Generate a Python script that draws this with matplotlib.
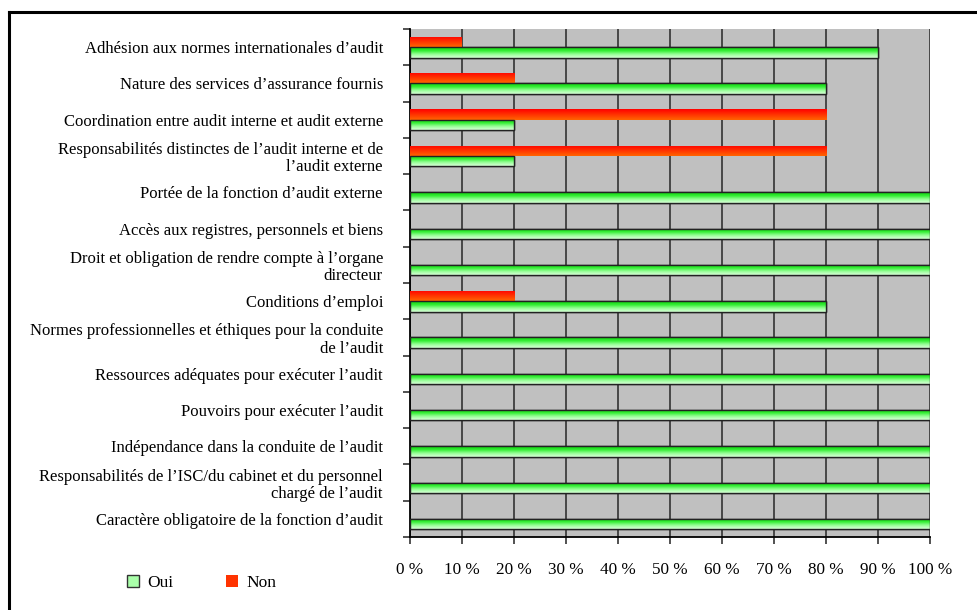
import numpy as np
import matplotlib
matplotlib.use("Agg")
import matplotlib.pyplot as plt
from matplotlib.patches import Patch
from matplotlib.colors import LinearSegmentedColormap
from matplotlib.lines import Line2D

categories = [
    "Adhésion aux normes internationales d’audit",
    "Nature des services d’assurance fournis",
    "Coordination entre audit interne et audit externe",
    "Responsabilités distinctes de l’audit interne et de\nl’audit externe",
    "Portée de la fonction d’audit externe",
    "Accès aux registres, personnels et biens",
    "Droit et obligation de rendre compte à l’organe\ndirecteur",
    "Conditions d’emploi",
    "Normes professionnelles et éthiques pour la conduite\nde l’audit",
    "Ressources adéquates pour exécuter l’audit",
    "Pouvoirs pour exécuter l’audit",
    "Indépendance dans la conduite de l’audit",
    "Responsabilités de l’ISC/du cabinet et du personnel\nchargé de l’audit",
    "Caractère obligatoire de la fonction d’audit",
]
oui = [90, 80, 20, 20, 100, 100, 100, 80, 100, 100, 100, 100, 100, 100]
non = [10, 20, 80, 80, 0, 0, 0, 20, 0, 0, 0, 0, 0, 0]
xticks = [0, 10, 20, 30, 40, 50, 60, 70, 80, 90, 100]
xticklabels = [f"{v} %" for v in xticks]
series_names = ["Oui", "Non"]

plt.rcParams['font.family'] = ['Liberation Serif', 'DejaVu Serif']

W, H = 978, 610
fig = plt.figure(figsize=(W / 100, H / 100), dpi=100)

# outer frame (left and top visible)
fig.add_artist(Line2D([9 / W, 9 / W], [0, 1 - 12 / H], color='black', lw=2.2, transform=fig.transFigure))
fig.add_artist(Line2D([9 / W, 1], [1 - 12 / H, 1 - 12 / H], color='black', lw=2.2, transform=fig.transFigure))

ax = fig.add_axes([410 / W, (H - 537) / H, 520 / W, (537 - 29) / H])
ax.set_facecolor('#c0c0c0')

n = len(categories)
y = np.arange(n)
bh = 0.286

green_cmap = LinearSegmentedColormap.from_list('g', ['#10d010', '#33ee33', '#99ff99', '#d8ffd8'])
red_cmap = LinearSegmentedColormap.from_list('r', ['#ff0000', '#ff3300', '#ff6600'])

bars_non = ax.barh(y - bh / 2, non, height=bh, color='#ff3300', edgecolor='none', zorder=3)
bars_oui = ax.barh(y + bh / 2, oui, height=bh, color='#66ff66', edgecolor='#222222', linewidth=1.0, zorder=3)

grad = np.linspace(0, 1, 64).reshape(-1, 1)
for bars, cmap in ((bars_non, red_cmap), (bars_oui, green_cmap)):
    for b in bars:
        w = b.get_width()
        if w <= 0:
            continue
        x0 = b.get_x()
        y0 = b.get_y()
        h = b.get_height()
        im = ax.imshow(grad, cmap=cmap, aspect='auto', origin='upper',
                       extent=(x0, x0 + w, y0 + h, y0), zorder=3.5, interpolation='bicubic')
        im.set_clip_path(b)
    if cmap is green_cmap:
        for b in bars:
            if b.get_width() > 0:
                e = plt.Rectangle((b.get_x(), b.get_y()), b.get_width(), b.get_height(),
                                  fill=False, edgecolor='#222222', lw=1.0, zorder=4)
                ax.add_patch(e)

ax.set_xlim(0, 100)
ax.set_ylim(n - 0.5, -0.5)
ax.set_xticks(xticks)
ax.set_xticklabels(xticklabels, fontsize=12.3)
ax.xaxis.grid(True, color='#333333', lw=1.2, zorder=1)
ax.set_axisbelow(True)

ax.set_yticks(np.arange(n + 1) - 0.5)
ax.set_yticklabels([])
ax.set_yticks(y, minor=True)
ax.set_yticklabels(categories, minor=True, fontsize=12, ha='right', linespacing=1.1)
ax.tick_params(axis='y', which='minor', length=0, pad=19.5)
ax.tick_params(axis='y', which='major', length=5, width=1.2, color='#333333', direction='out')
ax.tick_params(axis='x', length=5, width=1.2, color='#333333', pad=13)

for s in ['top', 'right']:
    ax.spines[s].set_visible(False)
ax.spines['left'].set_color('black')
ax.spines['left'].set_linewidth(1.3)
ax.spines['bottom'].set_color('black')
ax.spines['bottom'].set_linewidth(1.3)

handles = [Patch(facecolor='#aaffaa', edgecolor='#333333', lw=1.0),
           Patch(facecolor='#ff3300', edgecolor='none')]
fig.legend(handles, series_names, loc='center left', bbox_to_anchor=(111 / W, 1 - 583 / H),
           ncol=2, frameon=False, fontsize=12.5, handlelength=0.7, handleheight=0.7,
           handletextpad=0.5, columnspacing=3.0)

fig.savefig('out.png', dpi=100)
